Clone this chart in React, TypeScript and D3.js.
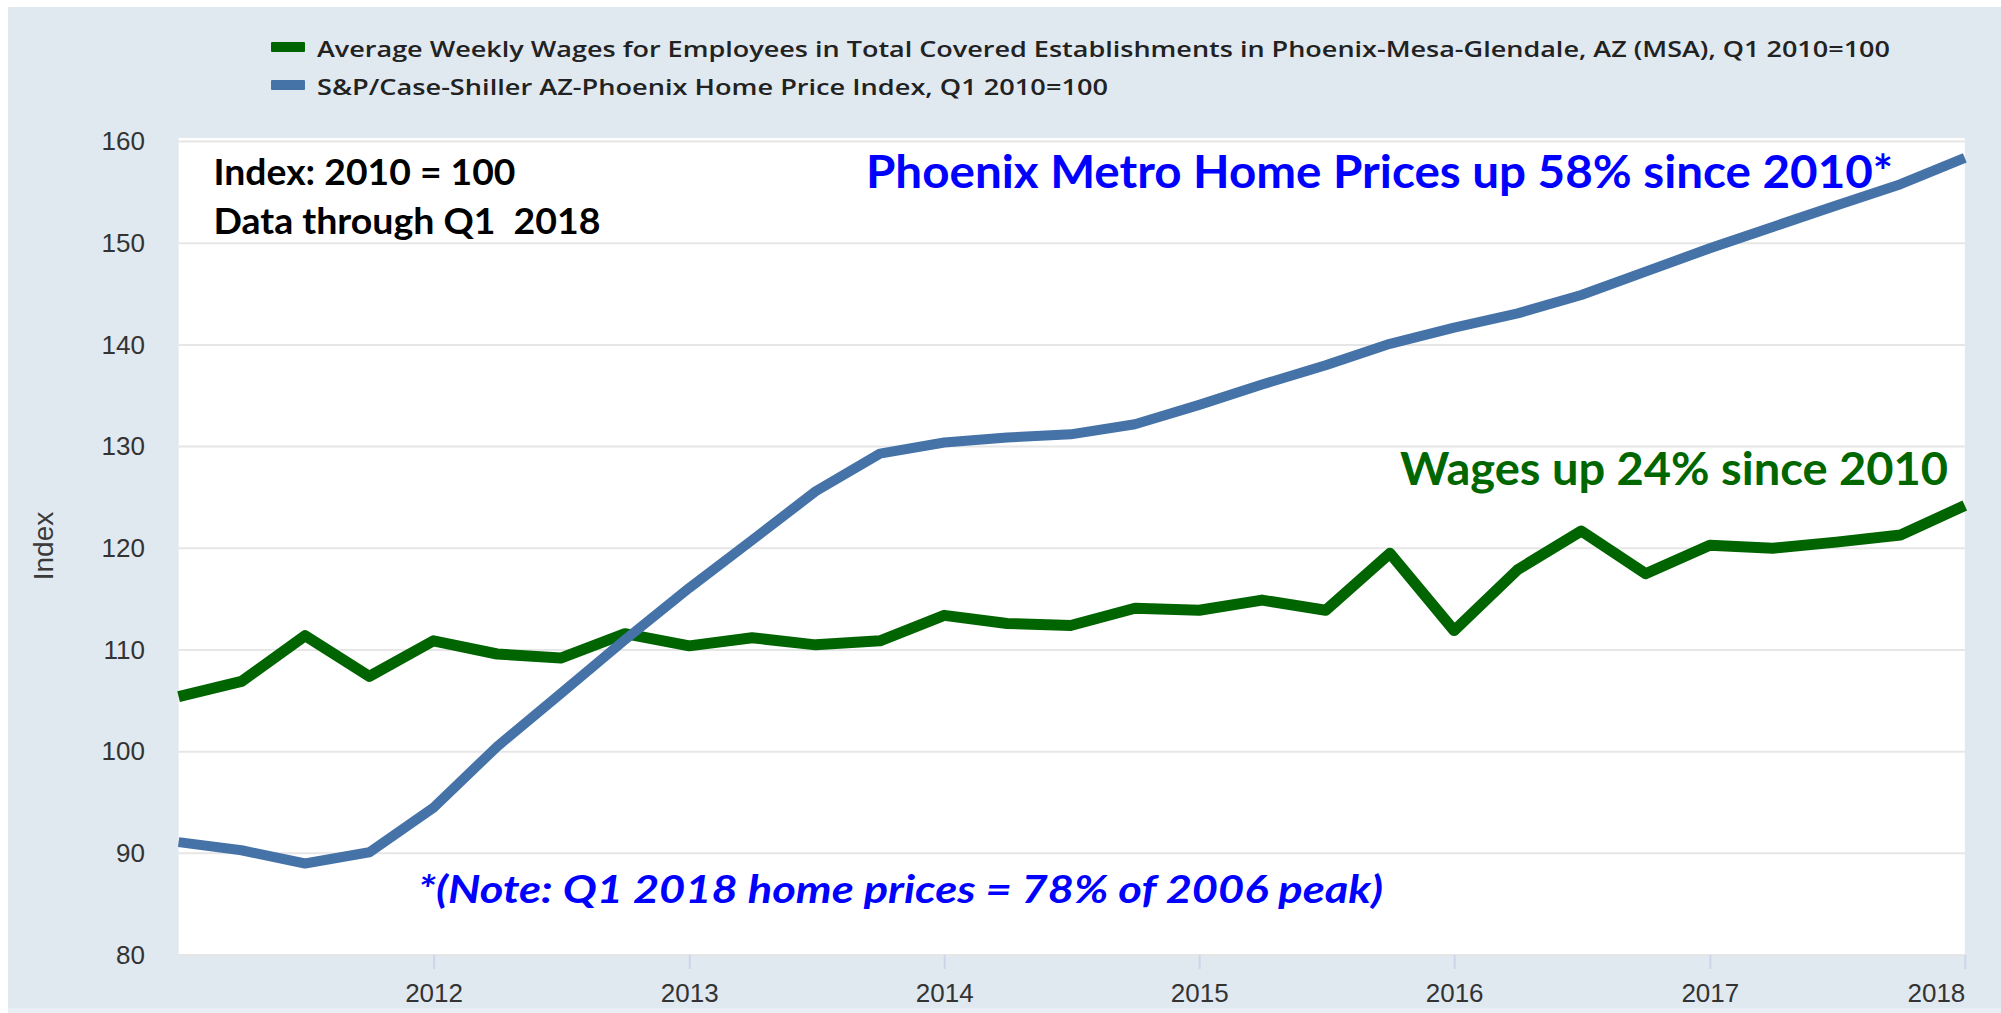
import React, { useEffect, useRef } from "react";
import * as d3 from "d3";

const quarterDates = [
  "2011-01-01", "2011-04-01", "2011-07-01", "2011-10-01",
  "2012-01-01", "2012-04-01", "2012-07-01", "2012-10-01",
  "2013-01-01", "2013-04-01", "2013-07-01", "2013-10-01",
  "2014-01-01", "2014-04-01", "2014-07-01", "2014-10-01",
  "2015-01-01", "2015-04-01", "2015-07-01", "2015-10-01",
  "2016-01-01", "2016-04-01", "2016-07-01", "2016-10-01",
  "2017-01-01", "2017-04-01", "2017-07-01", "2017-10-01",
  "2018-01-01",
];

const wageIndex = [
  105.4, 106.9, 111.4, 107.4,
  110.9, 109.6, 109.2, 111.6,
  110.4, 111.2, 110.5, 110.9,
  113.4, 112.6, 112.4, 114.1,
  113.9, 114.9, 113.9, 119.5,
  111.9, 117.9, 121.7, 117.5,
  120.3, 120.0, 120.6, 121.3,
  124.2,
];

const homePriceIndex = [
  91.1, 90.3, 89.0, 90.1,
  94.5, 100.5, 105.7, 111.0,
  116.1, 120.8, 125.6, 129.3,
  130.4, 130.9, 131.2, 132.2,
  134.1, 136.1, 138.0, 140.1,
  141.7, 143.1, 144.9, 147.2,
  149.5, 151.6, 153.7, 155.8,
  158.4,
];

const yTicks = [80, 90, 100, 110, 120, 130, 140, 150, 160];
const xTickYears = [2012, 2013, 2014, 2015, 2016, 2017, 2018];
const xDomainYears = [2011, 2018];
const yDomain = [80, 160];

const seriesNames = [
  "Average Weekly Wages for Employees in Total Covered Establishments in Phoenix-Mesa-Glendale, AZ (MSA), Q1 2010=100",
  "S&P/Case-Shiller AZ-Phoenix Home Price Index, Q1 2010=100",
];
const seriesColors = ["#006400", "#4572a7"];
const yAxisTitle = "Index";

const annotations = [
  { text: "Index: 2010 = 100", color: "#000000", italic: false },
  { text: "Data through Q1  2018", color: "#000000", italic: false },
  { text: "Phoenix Metro Home Prices up 58% since 2010*", color: "#0000ff", italic: false },
  { text: "Wages up 24% since 2010", color: "#006600", italic: false },
  { text: "*(Note: Q1 2018 home prices = 78% of 2006 peak)", color: "#0000ff", italic: true },
];

export default function App() {
  const ref = useRef<SVGSVGElement>(null);

  useEffect(() => {
    const W = 2001;
    const H = 1013;
    const left = 178.6;
    const right = 1964.8;
    const plotTop = 138;
    const top = 141.5;
    const bottom = 955;

    const svg = d3.select(ref.current);
    svg.selectAll("*").remove();

    const parse = d3.timeParse("%Y-%m-%d");
    const dates = quarterDates.map((d) => parse(d) as Date);

    const x = d3
      .scaleTime()
      .domain([new Date(xDomainYears[0], 0, 1), new Date(xDomainYears[1], 0, 1)])
      .range([left, right]);
    const y = d3.scaleLinear().domain(yDomain).range([bottom, top]);

    // backgrounds
    svg.append("rect").attr("width", W).attr("height", H).attr("fill", "#ffffff");
    svg
      .append("rect")
      .attr("x", 8)
      .attr("y", 7)
      .attr("width", W - 8)
      .attr("height", H - 7)
      .attr("fill", "#e0e8f0");
    svg
      .append("rect")
      .attr("x", 8)
      .attr("y", 1008)
      .attr("width", W - 8)
      .attr("height", 5)
      .attr("fill", "#e8eef4");
    svg
      .append("rect")
      .attr("x", left)
      .attr("y", plotTop)
      .attr("width", right - left)
      .attr("height", bottom - plotTop)
      .attr("fill", "#ffffff");

    // grid lines
    svg
      .append("g")
      .selectAll("line")
      .data(yTicks)
      .join("line")
      .attr("x1", left)
      .attr("x2", right)
      .attr("y1", (d) => y(d))
      .attr("y2", (d) => y(d))
      .attr("stroke", "#e6e6e6")
      .attr("stroke-width", 2);

    // y axis
    const yAxis = d3
      .axisLeft(y)
      .tickValues(yTicks)
      .tickSize(0)
      .tickPadding(33.6)
      .tickFormat((d) => String(d));
    const gy = svg.append("g").attr("transform", `translate(${left},0)`).call(yAxis);
    gy.select(".domain").remove();
    gy.selectAll("text")
      .attr("font-family", "Liberation Sans, Arial, sans-serif")
      .attr("font-size", 26)
      .attr("fill", "#333333");

    // x axis
    const xAxis = d3
      .axisBottom(x)
      .tickValues(xTickYears.map((yr) => new Date(yr, 0, 1)))
      .tickSize(14)
      .tickPadding(14.5)
      .tickFormat((d) => d3.timeFormat("%Y")(d as Date));
    const gx = svg.append("g").attr("transform", `translate(0,${bottom})`).call(xAxis);
    gx.select(".domain").remove();
    gx.selectAll(".tick line").attr("stroke", "#ccd6eb").attr("stroke-width", 2);
    gx.selectAll("text")
      .attr("font-family", "Liberation Sans, Arial, sans-serif")
      .attr("font-size", 26)
      .attr("fill", "#333333");
    gx.selectAll<SVGTextElement, Date>("text")
      .filter((d) => d.getFullYear() === xTickYears[xTickYears.length - 1])
      .attr("text-anchor", "end")
      .attr("x", 0);

    // y axis title
    svg
      .append("text")
      .attr("transform", `translate(53,546) rotate(-90)`)
      .attr("text-anchor", "middle")
      .attr("font-family", "Liberation Sans, Arial, sans-serif")
      .attr("font-size", 28)
      .attr("fill", "#3a3a3a")
      .text(yAxisTitle);

    // lines
    const line = d3
      .line<number>()
      .x((_, i) => x(dates[i]))
      .y((d) => y(d));

    svg
      .append("path")
      .datum(wageIndex)
      .attr("d", line)
      .attr("fill", "none")
      .attr("stroke", seriesColors[0])
      .attr("stroke-width", 11)
      .attr("stroke-linejoin", "round");

    svg
      .append("path")
      .datum(homePriceIndex)
      .attr("d", line)
      .attr("fill", "none")
      .attr("stroke", seriesColors[1])
      .attr("stroke-width", 10)
      .attr("stroke-linejoin", "round");

    // legend
    const legendPos = [
      { sy: 42, ty: 56.5, len: 1573 },
      { sy: 80, ty: 94.5, len: 791 },
    ];
    seriesNames.forEach((name, i) => {
      svg
        .append("rect")
        .attr("x", 271)
        .attr("y", legendPos[i].sy)
        .attr("width", 34)
        .attr("height", 10)
        .attr("rx", 1)
        .attr("fill", seriesColors[i]);
      svg
        .append("text")
        .attr("x", 317)
        .attr("y", legendPos[i].ty)
        .attr("font-family", "Open Sans, Liberation Sans, sans-serif")
        .attr("font-weight", 600)
        .attr("font-size", 21)
        .attr("fill", "#222222")
        .attr("textLength", legendPos[i].len)
        .attr("lengthAdjust", "spacingAndGlyphs")
        .text(name);
    });

    // annotations
    const annPos = [
      { x: 213.5, y: 185, size: 37, len: 302 },
      { x: 213.5, y: 234, size: 37, len: 387 },
      { x: 866, y: 188, size: 45, len: 1027 },
      { x: 1400, y: 485, size: 45, len: 548 },
      { x: 418, y: 903, size: 39, len: 965 },
    ];
    annotations.forEach((a, i) => {
      svg
        .append("text")
        .attr("x", annPos[i].x)
        .attr("y", annPos[i].y)
        .attr("font-family", "Lato, Open Sans, sans-serif")
        .attr("font-weight", 700)
        .attr("font-style", a.italic ? "italic" : "normal")
        .attr("font-size", annPos[i].size)
        .attr("fill", a.color)
        .attr("textLength", annPos[i].len)
        .attr("lengthAdjust", "spacingAndGlyphs")
        .style("white-space", "pre")
        .text(a.text);
    });
  }, []);

  return (
    <svg
      ref={ref}
      width={2001}
      height={1013}
      style={{ position: "absolute", left: 0, top: 0, display: "block" }}
    />
  );
}
